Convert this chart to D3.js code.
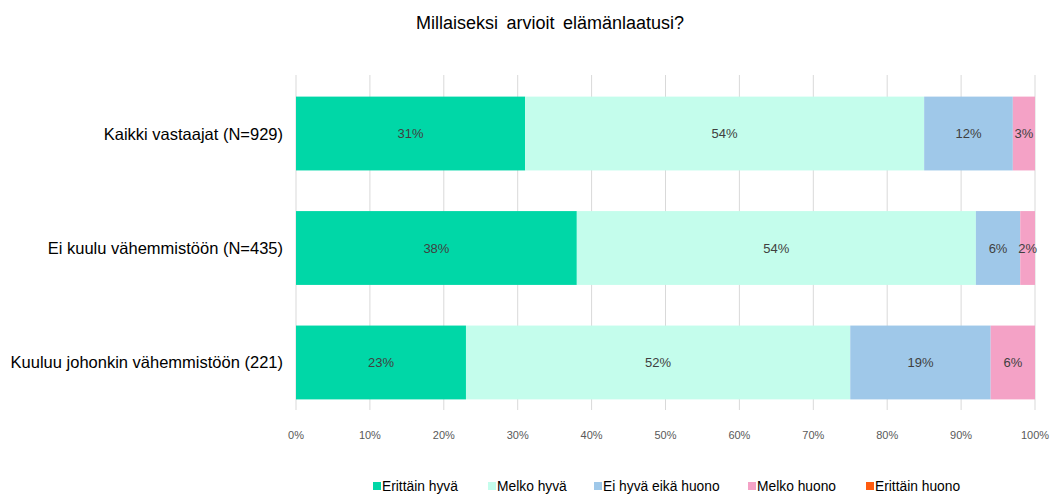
<!DOCTYPE html>
<html><head><meta charset="utf-8">
<script src="https://cdn.jsdelivr.net/npm/d3@7"></script>
<style>body{margin:0;background:#fff;font-family:"Liberation Sans",Arial,sans-serif;}</style>
</head><body><svg id="c" width="1051" height="497"></svg>
<script>
const categories = ["Kaikki vastaajat (N=929)", "Ei kuulu vähemmistöön (N=435)", "Kuuluu johonkin vähemmistöön (221)"];
const seriesNames = ["Erittäin hyvä", "Melko hyvä", "Ei hyvä eikä huono", "Melko huono", "Erittäin huono"];
const erittainHyva = [31, 38, 23];
const melkoHyva = [54, 54, 52];
const eiHyvaEikaHuono = [12, 6, 19];
const melkoHuono = [3, 2, 6];
const erittainHuono = [0, 0, 0];
const tickValues = [0, 10, 20, 30, 40, 50, 60, 70, 80, 90, 100];
const colors = ["#00d7a7", "#c4fdec", "#9fc8e9", "#f4a2c6", "#ff5b0f"];
const title = "Millaiseksi arvioit elämänlaatusi?";

const values = [erittainHyva, melkoHyva, eiHyvaEikaHuono, melkoHuono, erittainHuono];
const svg = d3.select("#c");
const x = d3.scaleLinear().domain([0, 100]).range([296, 1035]);
const y = d3.scaleBand().domain(categories).range([76, 420]).paddingInner(0.355).paddingOuter(0.18);

svg.append("text").attr("x", 550).attr("y", 29).attr("text-anchor", "middle")
  .attr("font-size", 18).attr("word-spacing", 3.5).attr("fill", "#000").text(title);

// gridlines
svg.append("g").selectAll("line").data(tickValues).join("line")
  .attr("x1", d => x(d)).attr("x2", d => x(d)).attr("y1", 75).attr("y2", 410)
  .attr("stroke", "#d9d9d9").attr("stroke-width", 1);

// tick labels
svg.append("g").selectAll("text").data(tickValues).join("text")
  .attr("x", d => x(d)).attr("y", 439).attr("text-anchor", "middle")
  .attr("font-size", 11).attr("fill", "#595959").text(d => d + "%");

// stacks
const rows = categories.map((c, i) => {
  const o = {cat: c};
  seriesNames.forEach((s, j) => o[s] = values[j][i]);
  return o;
});
const stack = d3.stack().keys(seriesNames)(rows);
stack.forEach((layer, j) => {
  const g = svg.append("g");
  layer.forEach(d => {
    const w = x(d[1]) - x(d[0]);
    if (w <= 0) return;
    g.append("rect").attr("x", x(d[0])).attr("y", y(d.data.cat))
      .attr("width", w).attr("height", y.bandwidth()).attr("fill", colors[j]);
    g.append("text").attr("x", (x(d[0]) + x(d[1])) / 2).attr("y", y(d.data.cat) + y.bandwidth() / 2 + 4.5)
      .attr("text-anchor", "middle").attr("font-size", 13).attr("fill", "#404040")
      .text((d[1] - d[0]) + "%");
  });
});

// category labels
svg.append("g").selectAll("text").data(categories).join("text")
  .attr("x", 283).attr("y", d => y(d) + y.bandwidth() / 2 + 6)
  .attr("text-anchor", "end").attr("font-size", 16.5).attr("fill", "#000").text(d => d);

// legend
const legX = [373, 488, 594, 748, 866];
const leg = svg.append("g").selectAll("g").data(seriesNames).join("g")
  .attr("transform", (d, i) => `translate(${legX[i]},491)`);
leg.append("rect").attr("x", 0).attr("y", -9).attr("width", 8).attr("height", 8)
  .attr("fill", (d, i) => colors[i]);
leg.append("text").attr("x", 9).attr("y", 0).attr("font-size", 13.8).attr("fill", "#000").text(d => d);
</script></body></html>
